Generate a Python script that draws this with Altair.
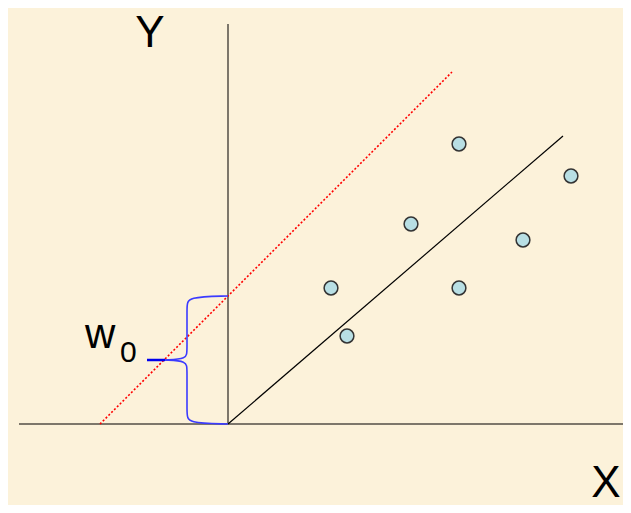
import altair as alt
import pandas as pd

# Coordinates: origin at the axes crossing, units in pixels (y up)
pt_x = [231, 343, 183, 295, 103, 231, 119]
pt_y = [280, 248, 200, 184, 136, 136, 88]

fit_x = [0, 335]
fit_y = [0, 288]

shift_x = [-128, 224]
shift_y = [0, 352]

yaxis_x = [0, 0]
yaxis_y = [0, 400]
xaxis_x = [-209, 395]
xaxis_y = [0, 0]

brace_up_x = [0, -41, -41, -41, -41, -63]
brace_up_y = [128, 127, 118, 73, 65, 64]
brace_lo_x = [-63, -41, -41, -41, -41, 0]
brace_lo_y = [64, 63, 55, 10, 1, 0]
tick_x = [-81, -63]
tick_y = [64, 64]

labels = ["Y", "X", "w", "0"]
label_x = [-78, 378, -143, -108]
label_y = [377, -73, 76, 62]
label_size = [44, 44, 42, 30]

W, H = 615, 497
xs = alt.Scale(domain=[-220, 395], range=[0, W], nice=False, zero=False)
ys = alt.Scale(domain=[-81, 416], range=[H, 0], nice=False, zero=False)


def seg(xv, yv, name):
    return pd.DataFrame({"x": xv, "y": yv, "o": list(range(len(xv))), "k": name})


def line(df, **kw):
    return alt.Chart(df).mark_line(**kw).encode(
        x=alt.X("x:Q", scale=xs, axis=None),
        y=alt.Y("y:Q", scale=ys, axis=None),
        order="o:Q",
    )


axes_y = line(seg(yaxis_x, yaxis_y, "ya"), color="#7d776b", strokeWidth=2)
axes_x = line(seg(xaxis_x, xaxis_y, "xa"), color="#7d776b", strokeWidth=2)
fit = line(seg(fit_x, fit_y, "fit"), color="#000000", strokeWidth=1.2)
shift = line(seg(shift_x, shift_y, "sh"), color="#ff0000", strokeWidth=1.6, strokeDash=[2, 2])
brace_up = line(seg(brace_up_x, brace_up_y, "bu"), color="#3b3bff", strokeWidth=1.6, interpolate="basis")
brace_lo = line(seg(brace_lo_x, brace_lo_y, "bl"), color="#3b3bff", strokeWidth=1.6, interpolate="basis")
tick = line(seg(tick_x, tick_y, "t"), color="#0000ee", strokeWidth=2.5)

pts = alt.Chart(pd.DataFrame({"x": pt_x, "y": pt_y})).mark_point(
    filled=True, fill="#b8dfe4", stroke="#333333", strokeWidth=1.5, size=190, opacity=1, shape="circle"
).encode(x=alt.X("x:Q", scale=xs, axis=None), y=alt.Y("y:Q", scale=ys, axis=None))

text_layers = []
for t, tx, ty, sz in zip(labels, label_x, label_y, label_size):
    align = "center" if t in ("Y", "X") else "left"
    text_layers.append(
        alt.Chart(pd.DataFrame({"x": [tx], "y": [ty], "t": [t]})).mark_text(
            font="Liberation Sans", fontSize=sz, color="#000000", align=align, baseline="alphabetic"
        ).encode(x=alt.X("x:Q", scale=xs, axis=None), y=alt.Y("y:Q", scale=ys, axis=None), text="t:N")
    )

chart = alt.layer(
    axes_y, axes_x, shift, fit, brace_up, brace_lo, tick, pts, *text_layers
).properties(
    width=W, height=H, background="#fcf2da", padding=0, autosize=alt.AutoSizeParams(type="none")
).configure_view(stroke=None)

chart.save("out.html", embed_options={"renderer": "svg", "actions": False})
